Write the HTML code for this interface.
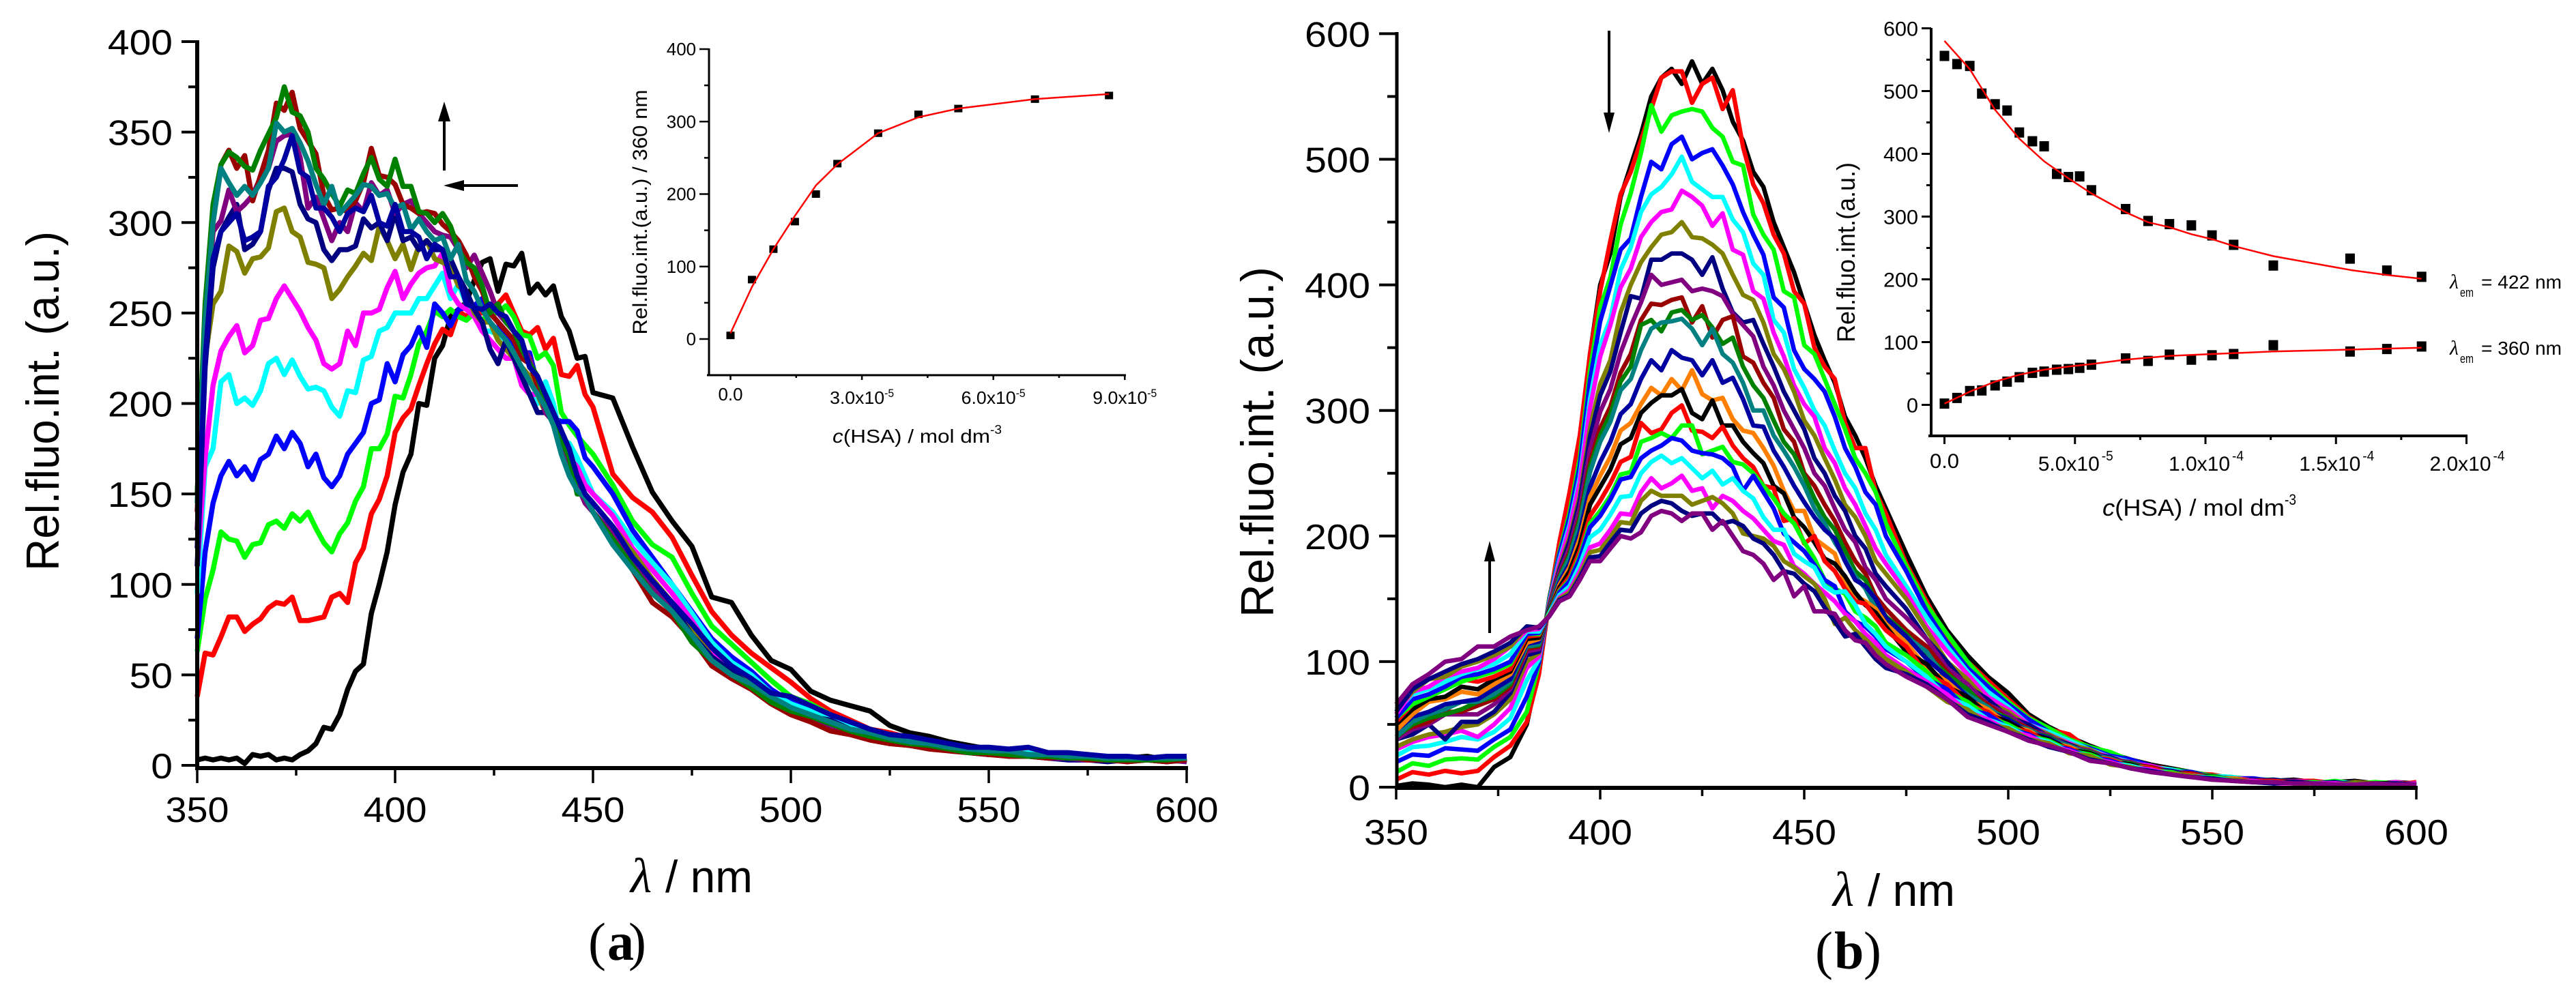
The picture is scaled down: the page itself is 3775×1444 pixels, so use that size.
<!DOCTYPE html>
<html lang="en">
<head>
<meta charset="utf-8">
<title>Fluorescence spectra of HSA titration</title>
<style>
html,body{margin:0;padding:0;background:#fff;}
#figure{display:block;width:3775px;height:1444px;background:#fff;}
text{font-family:"Liberation Sans",sans-serif;fill:#000;}
</style>
</head>
<body>
<svg id="figure" xmlns="http://www.w3.org/2000/svg" width="3775" height="1444" viewBox="0 0 3775 1444"></svg>
<script>
// ---------- Panel (a) data ----------
const wlA=[350,352,354,356,358,360,362,364,366,368,370,372,374,376,378,380,382,384,386,388,390,392,394,396,398,400,402,404,406,408,410,412,414,416,418,420,422,424,426,428,430,432,434,436,438,440,442,444,446,448,450,455,460,465,470,475,480,485,490,495,500,505,510,515,520,525,530,535,540,545,550,555,560,565,570,575,580,585,590,595,600];
const aBlack=[3,4,3,4,3,4,1,6,5,6,3,4,3,6,8,12,21,20,28,42,52,56,84,100,118,144,162,172,200,199,225,232,248,252,256,268,278,280,262,277,276,283,261,266,260,265,248,240,225,226,206,203,176,151,135,121,93,90,72,58,53,41,36,33,30,22,18,16,13,11,9,8,8,6,5,6,4,4,5,3,4];
const aRed=[38,62,61,71,82,82,74,78,81,87,90,89,93,80,80,81,82,93,95,90,112,120,139,147,160,184,192,197,210,222,233,241,238,251,248,252,250,252,255,260,250,240,238,242,230,236,216,215,221,205,198,161,148,140,126,105,85,72,62,54,46,37,30,25,20,18,15,13,11,9,8,7,8,5,5,4,3,4,3,3,3];
const aGreen=[63,92,108,129,125,124,115,122,123,133,135,131,139,135,140,131,123,118,128,134,146,154,175,175,183,204,203,216,233,240,251,248,252,248,246,250,246,250,250,254,248,238,237,225,228,221,195,188,182,177,172,155,135,122,115,95,77,67,57,47,38,34,28,22,20,17,14,12,11,9,8,8,6,6,4,5,3,4,3,4,3];
const aBlue=[70,118,145,160,168,160,165,158,169,172,182,175,184,178,165,172,159,154,160,172,178,184,200,202,222,212,227,232,242,231,255,250,243,252,253,254,258,250,245,236,232,228,228,210,198,192,190,190,185,170,165,150,130,115,100,85,70,60,52,42,35,30,27,22,19,16,13,12,10,8,7,7,6,5,4,4,3,3,4,3,2];
const aCyan=[95,165,175,212,216,200,203,199,207,222,225,216,224,215,208,209,207,198,193,207,206,224,226,240,242,250,250,250,258,258,265,272,258,266,255,250,240,240,238,235,225,215,205,200,212,200,180,178,170,160,150,140,125,112,100,84,68,57,50,40,34,30,25,21,18,15,14,11,10,8,8,6,7,4,5,3,4,2,3,3,2];
const aMagenta=[110,170,210,229,237,243,228,232,246,247,258,265,258,251,242,235,222,219,222,240,232,250,250,252,264,273,258,266,272,275,276,283,262,255,252,248,240,235,230,225,225,210,205,205,198,190,175,170,165,155,150,138,120,108,95,80,63,52,46,38,31,26,22,19,15,14,12,11,9,7,6,6,5,5,3,3,3,2,4,3,3];
const aOlive=[150,225,255,262,287,284,272,280,281,286,306,308,295,292,278,277,275,258,263,270,276,283,279,298,290,280,288,274,287,290,280,278,276,265,262,250,245,245,235,230,225,220,215,205,195,190,180,172,160,150,145,132,118,103,90,75,60,52,45,36,30,27,22,20,16,12,11,10,9,8,7,5,6,4,4,3,4,2,3,2,4];
const aNavy=[110,220,275,295,303,310,285,288,295,318,330,330,328,310,302,300,285,279,285,285,287,302,297,300,290,305,290,292,285,290,285,285,280,270,262,252,245,230,222,235,225,215,205,195,195,190,180,165,155,150,140,128,112,100,88,72,60,52,44,36,32,27,25,20,18,14,13,11,9,7,6,6,5,4,3,3,2,3,3,2,3];
const aPurple=[130,235,295,301,318,306,310,315,325,330,345,348,349,336,308,314,302,290,300,295,311,306,322,315,318,305,310,312,305,300,295,293,292,285,275,282,272,262,250,245,240,232,225,210,195,190,175,165,155,145,140,128,115,98,85,72,58,48,42,35,30,26,22,18,15,13,12,10,8,7,6,6,5,4,4,3,3,3,3,3,2];
const aWine=[140,240,300,332,340,330,337,312,326,340,366,362,372,352,345,338,315,307,308,306,312,322,341,326,325,321,310,308,305,306,305,299,295,290,282,270,262,250,245,240,235,225,222,210,205,195,185,170,160,150,140,125,108,90,82,70,55,48,42,34,28,24,19,17,14,12,11,9,8,7,6,5,5,4,5,3,3,2,3,2,3];
const aDarkGreen=[150,255,310,332,339,336,331,329,340,349,358,375,361,359,350,330,324,316,309,318,316,327,336,324,320,335,320,320,306,305,300,305,298,285,278,275,265,250,255,245,240,230,222,215,200,195,180,170,150,150,140,125,110,95,85,68,58,50,43,35,30,27,23,19,16,14,12,11,9,7,7,6,5,5,4,4,3,3,3,3,4];
const aTeal=[145,245,300,330,322,315,320,315,322,330,355,350,352,344,334,321,310,320,305,310,315,321,320,315,316,308,310,296,302,295,290,292,280,288,268,262,252,245,240,235,228,220,212,205,198,188,172,160,152,148,140,122,108,95,85,72,58,50,45,38,32,28,24,20,18,15,13,12,10,9,8,8,6,6,5,5,4,4,4,4,4];
const aRoyal=[120,225,280,295,300,305,290,292,295,320,325,335,348,328,325,308,308,303,295,305,308,306,315,300,298,310,295,295,292,280,288,285,270,270,255,253,252,255,250,248,240,235,220,215,205,195,185,175,160,150,145,132,115,102,90,78,65,55,48,40,38,33,28,24,20,17,16,14,12,10,10,9,10,7,7,6,5,5,4,5,5];
const seriesA=[aBlack,aRed,aGreen,aBlue,aCyan,aMagenta,aOlive,aNavy,aPurple,aWine,aDarkGreen,aTeal,aRoyal];
const colorsA=["#000000","#ff0000","#00ff00","#0000ff","#00ffff","#ff00ff","#808000","#000080","#800080","#990000","#008000","#008080","#0000a0"];

// Panel (a) inset
const insetAConc=[0,0.49,0.98,1.47,1.95,2.44,3.37,4.29,5.2,6.95,8.64];
const insetAValues=[5,82,124,162,200,242,284,310,318,331,336];
const insetAFit=[8,72,124,170,212,241,284,306,318,331,338];

// ---------- Panel (b) data ----------
const wlB=[350,354,358,362,366,370,374,378,382,385,387.5,390,392.5,395,397.5,400,402.5,405,407.5,410,412.5,415,417.5,420,422.5,425,427.5,430,432.5,435,437.5,440,442.5,445,447.5,450,452.5,455,457.5,460,462.5,465,467.5,470,475,480,485,490,495,500,505,510,515,520,525,530,535,540,545,550,555,560,565,570,575,580,585,590,595,600];
const bBlack1=[1,3,2,0,2,0,16,24,50,95,150,190,225,270,345,400,425,470,495,520,550,565,572,560,578,560,572,555,530,515,490,478,450,430,410,385,360,340,322,295,280,262,240,222,186,152,125,105,88,75,58,48,40,33,27,22,18,15,12,9,8,6,5,6,4,4,5,3,4,3];
const bRed1=[6,12,10,13,11,13,24,33,52,90,148,195,235,280,345,395,435,472,490,515,540,565,570,570,545,560,565,540,555,510,480,465,440,425,395,385,350,335,325,290,270,270,235,218,178,148,118,100,85,70,56,46,42,30,26,20,17,14,11,10,7,7,4,5,5,3,4,3,2,4];
const bGreen1=[12,19,17,22,23,22,32,40,60,98,149,187,219,262,332,382,406,448,473,505,543,522,535,538,540,538,525,518,498,495,456,440,428,395,390,352,345,325,305,285,262,250,235,210,176,145,122,100,82,68,55,47,38,32,28,21,16,14,12,9,8,6,6,4,3,5,3,4,3,3];
const bBlue1=[20,26,25,31,30,29,38,46,72,99,148,185,215,256,324,371,399,428,437,470,498,492,512,518,500,505,508,495,480,458,440,424,390,382,348,333,325,315,295,270,255,235,225,200,172,140,115,95,80,66,54,44,36,31,25,22,17,13,12,8,7,7,5,5,4,3,4,2,3,2];
const bCyan1=[25,32,33,36,40,38,44,55,85,102,147,181,209,247,309,352,373,412,430,458,472,478,488,502,482,476,470,470,452,442,417,408,372,362,333,318,300,288,268,250,238,218,205,185,160,135,112,92,76,64,50,44,37,30,24,20,16,14,10,9,8,5,6,4,3,4,3,3,2,3];
const bMagenta1=[30,36,40,42,45,40,50,63,95,104,146,179,206,243,302,343,368,398,413,438,450,458,460,475,470,463,447,457,428,424,395,389,362,343,320,305,295,270,258,238,225,208,190,178,155,128,108,90,72,62,50,42,35,29,24,19,17,12,11,8,7,6,4,5,4,3,3,2,4,2];
const bOlive1=[32,38,42,44,48,50,58,70,100,107,145,175,199,232,286,321,340,378,400,418,430,440,442,450,438,437,432,425,408,392,388,370,345,333,315,292,280,262,245,225,215,200,180,170,150,125,100,86,68,60,48,42,34,30,22,20,15,13,10,9,6,6,5,3,4,2,4,3,2,3];
const bNavy1=[38,42,50,38,52,52,60,75,105,108,144,173,196,228,279,312,331,362,391,389,420,420,425,425,420,408,422,397,378,370,372,353,335,315,300,285,262,250,232,220,200,190,170,160,142,118,100,80,70,56,50,40,34,27,24,18,16,12,11,8,7,5,6,4,3,4,2,3,3,2];
const bPurple1=[38,46,50,58,58,58,66,78,108,110,144,171,191,222,269,299,317,346,367,386,408,400,402,404,395,397,395,391,377,368,359,335,320,300,285,270,250,240,222,205,195,175,165,150,135,118,95,82,66,58,46,41,32,29,22,20,15,13,10,9,6,6,4,5,3,3,3,2,3,3];
const bWine=[42,48,52,60,60,65,70,80,110,112,143,168,187,215,259,286,303,330,345,372,385,384,388,390,370,383,358,372,375,343,338,322,310,285,275,250,240,225,212,195,180,170,152,142,125,112,92,76,66,54,47,38,33,26,23,18,16,12,11,8,7,5,5,4,4,2,3,3,2,2];
const bDarkGreen=[40,50,55,58,62,68,72,82,112,113,142,167,185,213,255,280,297,323,335,368,372,363,378,380,372,376,366,353,358,335,320,310,292,275,265,248,230,215,205,188,172,165,148,136,122,105,90,78,62,55,44,40,31,28,21,19,14,13,9,9,6,6,4,4,3,3,2,3,3,3];
const bTeal=[40,52,58,62,68,68,74,84,112,114,142,166,183,210,251,275,291,316,325,348,365,370,371,373,365,352,365,345,338,322,300,300,280,268,255,240,222,210,195,182,168,158,142,132,120,108,85,74,64,52,46,38,33,26,23,17,15,11,10,8,7,5,5,3,4,2,3,2,3,2];
const bRoyal=[45,56,60,66,68,70,78,86,114,116,141,163,178,203,239,259,275,297,305,325,340,332,348,342,340,328,340,322,326,309,288,287,268,255,240,227,215,205,198,180,165,160,150,135,120,102,88,72,60,54,44,39,30,27,21,18,14,13,9,8,6,6,4,4,3,3,3,3,2,3];
const bOrange=[45,58,68,70,76,74,82,90,115,118,140,161,175,198,231,248,263,284,290,305,318,312,325,316,332,313,308,310,293,284,282,270,256,236,220,220,198,192,186,163,152,148,142,130,115,95,84,70,62,50,45,36,32,25,22,17,15,11,10,7,7,5,5,3,3,3,2,3,2,3];
const bBlack2=[50,62,70,72,80,78,86,92,118,119,140,159,172,193,225,239,253,273,278,298,306,312,312,317,298,293,308,288,288,275,266,258,240,234,215,207,195,182,178,168,155,145,139,128,108,98,80,72,58,52,43,38,30,27,20,18,13,12,9,8,6,5,4,4,3,2,3,3,3,2];
const bRed2=[52,66,72,78,86,84,88,94,120,121,139,157,168,188,216,228,242,259,263,290,282,285,298,304,284,283,278,287,272,262,255,240,238,212,214,194,200,180,172,158,148,146,135,125,112,90,82,66,60,48,44,35,31,24,22,16,15,11,10,7,6,5,5,3,3,3,2,2,3,3];
const bGreen2=[55,66,72,78,84,88,92,98,122,122,139,156,165,184,210,220,232,249,251,275,278,282,278,288,288,265,268,271,259,257,250,240,230,218,210,195,182,165,158,154,140,135,128,115,105,92,76,68,56,50,41,37,29,26,20,17,13,12,8,8,6,4,4,3,4,2,3,2,2,2];
const bBlue2=[55,70,74,80,88,90,94,100,122,123,138,155,164,182,207,216,229,245,247,262,268,272,278,276,268,266,265,262,255,236,248,235,222,202,195,188,177,165,160,140,132,128,120,110,100,86,78,62,58,47,42,34,30,24,21,16,14,10,9,7,5,5,3,4,3,3,2,3,2,3];
const bCyan2=[60,74,78,84,90,94,98,106,124,124,138,153,160,177,199,205,217,231,232,250,259,264,258,262,254,246,252,241,246,236,230,215,205,205,186,180,175,160,155,156,145,130,122,112,100,88,72,65,54,48,40,36,28,25,19,17,13,11,9,7,6,4,4,3,3,2,3,2,3,2];
const bMagenta2=[58,76,80,88,92,95,102,112,125,126,137,151,157,172,191,194,205,218,217,235,246,238,242,248,236,238,222,232,228,220,214,205,196,193,176,170,162,155,148,138,132,122,115,105,94,84,74,60,54,45,41,33,29,23,20,15,14,10,8,7,5,5,3,3,3,3,2,2,2,3];
const bOlive2=[62,76,86,88,96,100,105,112,128,127,137,150,155,169,187,189,199,211,210,228,236,232,232,232,225,228,231,226,218,202,200,198,192,180,175,168,162,150,130,135,125,118,110,102,92,80,68,62,50,47,38,35,27,25,18,16,12,11,9,6,6,4,4,3,2,2,3,3,2,2];
const bNavy2=[60,78,86,92,98,102,108,115,128,127,136,149,153,167,183,184,195,205,204,218,224,228,226,220,216,218,218,210,212,208,198,194,185,172,170,162,156,143,132,120,122,112,102,95,90,82,70,58,52,44,38,32,28,22,19,15,13,10,8,7,5,4,3,4,3,2,2,2,3,2];
const bPurple2=[66,82,90,100,102,112,112,120,125,128,136,148,152,165,180,180,190,200,198,203,216,220,218,212,218,218,205,212,200,188,185,178,165,172,152,160,140,140,138,125,117,115,105,98,88,80,70,56,50,44,37,33,28,21,19,15,12,10,8,6,5,4,4,3,3,2,2,3,2,2];
const seriesB=[bBlack1,bRed1,bGreen1,bBlue1,bCyan1,bMagenta1,bOlive1,bNavy1,bPurple1,bWine,bDarkGreen,bTeal,bRoyal,bOrange,bBlack2,bRed2,bGreen2,bBlue2,bCyan2,bMagenta2,bOlive2,bNavy2,bPurple2];
const colorsB=["#000000","#ff0000","#00ff00","#0000ff","#00ffff","#ff00ff","#808000","#000080","#800080","#990000","#008000","#008080","#0000a0","#ff8000","#000000","#ff0000","#00ff00","#0000ff","#00ffff","#ff00ff","#808000","#000080","#800080"];

// Panel (b) inset
const insetBConc=[0,0.48,0.97,1.43,1.94,2.4,2.87,3.37,3.82,4.3,4.75,5.18,5.63,6.94,7.8,8.62,9.46,10.25,11.08,12.6,15.54,16.95,18.28];
const insetB422=[556,543,540,496,479,469,434,420,412,368,363,364,342,312,293,288,286,270,255,222,233,214,204];
const insetB360=[2,11,22,23,31,37,44,51,53,56,57,59,64,74,70,80,72,79,81,95,85,89,93];
const fitB422Conc=[0,0.97,1.94,2.87,3.82,4.75,5.63,6.94,7.8,8.62,9.46,10.25,11.08,12.6,15.54,16.95,18.28];
const fitB422=[580,535,470,424,388,361,337,307,291,283,272,264,253,237,215,207,201];
const fitB360Conc=[0,0.97,1.94,2.87,3.82,4.75,5.63,6.94,8.62,10.25,12.6,15.54,18.28];
const fitB360=[2,21,37,48,56,61,65,72,78,81,85,88,91];

// Tick labels
const mainXTicks=[350,400,450,500,550,600];
const mainYTicksA=[0,50,100,150,200,250,300,350,400];
const mainYTicksB=[0,100,200,300,400,500,600];
const insetAYTicks=[0,100,200,300,400];
const insetAXTicks=[["0.0",0,""],["3.0x10",3,"-5"],["6.0x10",6,"-5"],["9.0x10",9,"-5"]];
const insetBYTicks=[0,100,200,300,400,500,600];
const insetBXTicks=[["0.0",0,""],["5.0x10",5,"-5"],["1.0x10",10,"-4"],["1.5x10",15,"-4"],["2.0x10",20,"-4"]];

// ---------- Drawing helpers ----------
const svg=document.getElementById('figure');
const NS='http://www.w3.org/2000/svg';

function addLine(x1,y1,x2,y2,w,name){
  const el=document.createElementNS(NS,'line');
  el.setAttribute('x1',x1);el.setAttribute('y1',y1);el.setAttribute('x2',x2);el.setAttribute('y2',y2);
  el.setAttribute('stroke','#000');el.setAttribute('stroke-width',w);
  
  
  svg.appendChild(el);
  return el;
}
function addText(x,y,str,size,anchor,len,name,rot,family,extra){
  const el=document.createElementNS(NS,'text');
  el.setAttribute('font-size',size);
  el.setAttribute('text-anchor',anchor);
  if(rot){el.setAttribute('transform','translate('+x+','+y+') rotate(-90)');}
  else{el.setAttribute('x',x);el.setAttribute('y',y);}
  if(family){el.setAttribute('style','font-family:'+family+';'+(extra||''));}
  else if(extra){el.setAttribute('style',extra);}
  el.textContent=str;
  if(len){el.setAttribute('textLength',len);el.setAttribute('lengthAdjust','spacingAndGlyphs');}
  
  
  svg.appendChild(el);
  return el;
}
function addCurve(xs,ys,sx,sy,color,w,name){
  const el=document.createElementNS(NS,'polyline');
  const pts=[];
  for(let i=0;i<xs.length;i++){ if(Number.isFinite(ys[i])) pts.push(sx(xs[i]).toFixed(1)+','+sy(ys[i]).toFixed(1)); }
  el.setAttribute('points',pts.join(' '));
  el.setAttribute('fill','none');el.setAttribute('stroke',color);el.setAttribute('stroke-width',w);
  el.setAttribute('stroke-linejoin','round');
  
  
  svg.appendChild(el);
}
function addMarkers(xs,ys,sx,sy,w,h,name){
  for(let i=0;i<xs.length;i++){
    const el=document.createElementNS(NS,'rect');
    el.setAttribute('x',sx(xs[i])-w/2);el.setAttribute('y',sy(ys[i])-h/2);
    el.setAttribute('width',w);el.setAttribute('height',h);el.setAttribute('fill','#000');
    
    
    svg.appendChild(el);
  }
}
function addArrow(x1,y1,x2,y2,headLen,headHalf,w,name){
  const dx=x2-x1,dy=y2-y1,L=Math.hypot(dx,dy),ux=dx/L,uy=dy/L;
  const bx=x2-ux*headLen,by=y2-uy*headLen;
  const g=document.createElementNS(NS,'g');
  
  
  const ln=document.createElementNS(NS,'line');
  ln.setAttribute('x1',x1);ln.setAttribute('y1',y1);ln.setAttribute('x2',bx);ln.setAttribute('y2',by);
  ln.setAttribute('stroke','#000');ln.setAttribute('stroke-width',w);
  g.appendChild(ln);
  const p=document.createElementNS(NS,'polygon');
  p.setAttribute('points',x2+','+y2+' '+(bx-uy*headHalf)+','+(by+ux*headHalf)+' '+(bx+uy*headHalf)+','+(by-ux*headHalf));
  p.setAttribute('fill','#000');
  g.appendChild(p);
  svg.appendChild(g);
}
const range=(a,b,s)=>{const r=[];for(let v=a;v<=b+1e-9;v+=s)r.push(v);return r;};

// ---------- Panel (a) ----------
const ax=v=>289+(v-350)*5.8;
const ay=v=>1122-v*2.6525;
seriesA.forEach((s,i)=>addCurve(wlA,s,ax,ay,colorsA[i],7.5,'panel-a-spectrum-'+(i+1)));
addLine(289,59,289,1129,6,'panel-a-y-axis');
addLine(286,1126,1741,1126,6,'panel-a-x-axis');
range(0,400,25).forEach(v=>{const maj=v%50===0;addLine(maj?266:276,ay(v),289,ay(v),4,'panel-a-y-tick');});
range(350,600,25).forEach(v=>{const maj=v%50===0;addLine(ax(v),1126,ax(v),maj?1148:1137,3.5,'panel-a-x-tick');});
mainYTicksA.forEach(v=>addText(253,ay(v)+19,String(v),52,'end',String(v).length*31.7,'panel-a-y-tick-label'));
mainXTicks.forEach(v=>addText(ax(v),1205,String(v),52,'middle',93,'panel-a-x-tick-label'));
addText(86,588,'Rel.fluo.int. (a.u.)',68,'middle',498,'panel-a-y-axis-title',true);
addText(924,1308,'λ',72,'start',0,'panel-a-x-axis-lambda',false,'"Liberation Serif",serif','font-style:italic;');
addText(975,1308,'/ nm',66,'start',128,'panel-a-x-axis-title');
addText(862,1407,'(',78,'start',0,'panel-a-caption-open',false,'"Liberation Serif",serif');
addText(890,1407,'a',78,'start',0,'panel-a-caption-letter',false,'"Liberation Serif",serif','font-weight:bold;');
addText(921,1407,')',78,'start',0,'panel-a-caption-close',false,'"Liberation Serif",serif');
addArrow(651,250,651,149,29,9,4,'panel-a-up-arrow');
addArrow(759,272,650,272,30,8,4,'panel-a-left-arrow');

// Panel (a) inset
const iax=v=>1070.5+v*64.2;
const iay=v=>497-v*1.0625;
addLine(1039,71,1039,551.5,3,'inset-a-y-axis');
addLine(1036,550,1650,550,3,'inset-a-x-axis');
range(-50,400,50).forEach(v=>{if(v<0)return;const maj=v%100===0;addLine(maj?1025:1032,iay(v),1039,iay(v),2.5,'inset-a-y-tick');});
range(0,9,1.5).forEach(v=>{const maj=v%3===0;addLine(iax(v),550,iax(v),maj?557:554,2.5,'inset-a-x-tick');});
insetAYTicks.forEach(v=>addText(1020,iay(v)+9,String(v),26,'end',String(v).length*14.4,'inset-a-y-tick-label'));
insetAXTicks.forEach(t=>{
  if(t[2]===''){addText(iax(t[1]),587,t[0],26,'middle',36,'inset-a-x-tick-label');}
  else{
    addText(iax(t[1])-47,592,t[0],26,'start',80,'inset-a-x-tick-label');
    addText(iax(t[1])+33,582,t[2],17,'start',14,'inset-a-x-tick-exponent');
  }
});
addText(948,311,'Rel.fluo.int.(a.u.) / 360 nm',30,'middle',359,'inset-a-y-axis-title',true);
(function(){
  const el=addText(1220,649,'',28,'start',0,'inset-a-x-axis-title');
  const c=document.createElementNS(NS,'tspan');c.setAttribute('style','font-style:italic;');c.textContent='c';el.appendChild(c);
  el.appendChild(document.createTextNode('(HSA) / mol dm'));
  el.setAttribute('textLength',231);el.setAttribute('lengthAdjust','spacingAndGlyphs');
  addText(1451,636,'-3',18,'start',17,'inset-a-x-axis-exponent');
})();
addMarkers(insetAConc,insetAValues,iax,iay,12,11,'inset-a-data-point');
addCurve(insetAConc,insetAFit,iax,iay,'#ff0000',2.5,'inset-a-fit-curve');

// ---------- Panel (b) ----------
const bx=v=>2046+(v-350)*5.98;
const by=v=>1154-v*1.841;
seriesB.forEach((s,i)=>addCurve(wlB,s,bx,by,colorsB[i],6.5,'panel-b-spectrum-'+(i+1)));
addLine(2047,47,2047,1158,5,'panel-b-y-axis');
addLine(2044,1155,3543,1155,6,'panel-b-x-axis');
range(0,600,50).forEach(v=>{const maj=v%100===0;addLine(maj?2021:2033,by(v),2047,by(v),4,'panel-b-y-tick');});
range(350,600,25).forEach(v=>{const maj=v%50===0;addLine(bx(v),1155,bx(v),maj?1172:1167,3.5,'panel-b-x-tick');});
mainYTicksB.forEach(v=>addText(2008,by(v)+19,String(v),52,'end',String(v).length*32,'panel-b-y-tick-label'));
mainXTicks.forEach(v=>addText(bx(v),1238,String(v),52,'middle',94,'panel-b-x-tick-label'));
addText(1866,648,'Rel.fluo.int. (a.u.)',68,'middle',514,'panel-b-y-axis-title',true);
addText(2686,1328,'λ',72,'start',0,'panel-b-x-axis-lambda',false,'"Liberation Serif",serif','font-style:italic;');
addText(2737,1328,'/ nm',66,'start',128,'panel-b-x-axis-title');
addText(2660,1420,'(',78,'start',0,'panel-b-caption-open',false,'"Liberation Serif",serif');
addText(2688,1420,'b',78,'start',0,'panel-b-caption-letter',false,'"Liberation Serif",serif','font-weight:bold;');
addText(2731,1420,')',78,'start',0,'panel-b-caption-close',false,'"Liberation Serif",serif');
addArrow(2358,45,2358,195,30,8,4,'panel-b-down-arrow');
addArrow(2183,928,2183,793,30,8,4,'panel-b-up-arrow');

// Panel (b) inset
const ibx=v=>2849.5+v*38.25;
const iby=v=>593.5-v*0.92;
addLine(2830,41,2830,641,4,'inset-b-y-axis');
addLine(2826,639,3616,639,4,'inset-b-x-axis');
range(0,600,50).forEach(v=>{const maj=v%100===0;addLine(maj?2816:2823,iby(v),2830,iby(v),3,'inset-b-y-tick');});
range(0,20,2.5).forEach(v=>{const maj=v%5===0;addLine(ibx(v),639,ibx(v),maj?651:645,3,'inset-b-x-tick');});
insetBYTicks.forEach(v=>addText(2811,iby(v)+11,String(v),30,'end',String(v).length*17,'inset-b-y-tick-label'));
insetBXTicks.forEach(t=>{
  if(t[2]===''){addText(ibx(t[1]),686,t[0],30,'middle',43,'inset-b-x-tick-label');}
  else{
    addText(ibx(t[1])-54,690,t[0],30,'start',90,'inset-b-x-tick-label');
    addText(ibx(t[1])+39,675,t[2],20,'start',17,'inset-b-x-tick-exponent');
  }
});
addText(2718,370,'Rel.fluo.int.(a.u.)',37,'middle',264,'inset-b-y-axis-title',true);
(function(){
  const el=addText(3081,756,'',34,'start',0,'inset-b-x-axis-title');
  const c=document.createElementNS(NS,'tspan');c.setAttribute('style','font-style:italic;');c.textContent='c';el.appendChild(c);
  el.appendChild(document.createTextNode('(HSA) / mol dm'));
  el.setAttribute('textLength',267);el.setAttribute('lengthAdjust','spacingAndGlyphs');
  addText(3348,740,'-3',22,'start',17,'inset-b-x-axis-exponent');
})();
addMarkers(insetBConc,insetB422,ibx,iby,14,15,'inset-b-data-point-422nm');
addMarkers(insetBConc,insetB360,ibx,iby,14,15,'inset-b-data-point-360nm');
addCurve(fitB422Conc,fitB422,ibx,iby,'#ff0000',2.5,'inset-b-fit-curve-422nm');
addCurve(fitB360Conc,fitB360,ibx,iby,'#ff0000',2.5,'inset-b-fit-curve-360nm');
addText(3590,423,'λ',30,'start',0,'inset-b-label-422-lambda',false,'"Liberation Serif",serif','font-style:italic;');
addText(3605,435,'em',18,'start',20,'inset-b-label-422-subscript');
addText(3636,423,'= 422 nm',28,'start',118,'inset-b-label-422nm');
addText(3590,520,'λ',30,'start',0,'inset-b-label-360-lambda',false,'"Liberation Serif",serif','font-style:italic;');
addText(3605,532,'em',18,'start',20,'inset-b-label-360-subscript');
addText(3636,520,'= 360 nm',28,'start',118,'inset-b-label-360nm');
</script>
</body>
</html>
